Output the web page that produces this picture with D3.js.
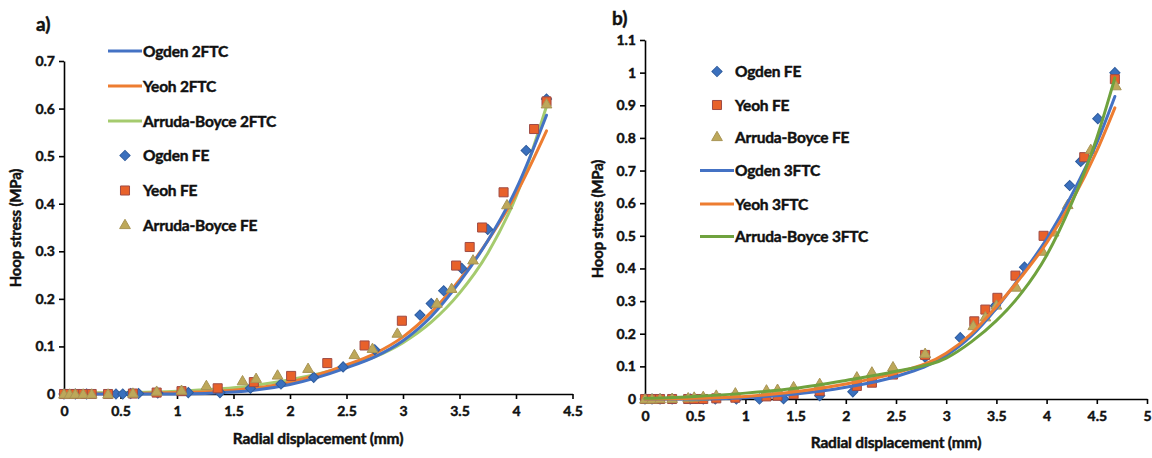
<!DOCTYPE html>
<html>
<head>
<meta charset="utf-8">
<script src="https://cdn.jsdelivr.net/npm/d3@7/dist/d3.min.js"></script>
<style>
  html, body { margin: 0; padding: 0; background: #fff; }
  svg { display: block; }
  text { font-family: Lato, "Open Sans", sans-serif; font-weight: 700; fill: #111; stroke: #111; stroke-width: 0.45px; }
</style>
</head>
<body>
<svg id="chart" width="1152" height="458"></svg>
<script>
// ---------- Panel a: 2FTC fits vs FE ----------
const aXTicks = [0, 0.5, 1, 1.5, 2, 2.5, 3, 3.5, 4, 4.5];
const aYTicks = [0, 0.1, 0.2, 0.3, 0.4, 0.5, 0.6, 0.7];

const aCurveX       = [0, 0.5, 1, 1.5, 2, 2.5, 2.75, 3, 3.25, 3.5, 3.75, 4, 4.27];
const aOgden2FTC    = [0, 0, 0, 0.004, 0.02, 0.055, 0.078, 0.112, 0.163, 0.235, 0.322, 0.43, 0.586];
const aYeoh2FTC     = [0, 0.001, 0.003, 0.008, 0.025, 0.061, 0.085, 0.12, 0.172, 0.24, 0.322, 0.42, 0.553];
const aArruda2FTC   = [0.002, 0.003, 0.006, 0.013, 0.03, 0.058, 0.078, 0.108, 0.151, 0.212, 0.296, 0.415, 0.605];

const aOgdenFE_x  = [0, 0.1, 0.2, 0.46, 0.52, 0.59, 0.66, 0.83, 1.1, 1.38, 1.65, 1.92, 2.21, 2.47, 2.75, 3.15, 3.25, 3.36, 3.52, 3.75, 4.09, 4.27];
const aOgdenFE_y  = [0, 0, 0, 0, 0, 0.001, 0.001, 0.002, 0.003, 0.003, 0.012, 0.021, 0.035, 0.057, 0.093, 0.166, 0.19, 0.217, 0.264, 0.346, 0.512, 0.62];
const aYeohFE_x   = [0, 0.05, 0.1, 0.17, 0.245, 0.39, 0.61, 0.82, 1.04, 1.36, 1.68, 2.01, 2.33, 2.66, 2.99, 3.47, 3.59, 3.70, 3.89, 4.16, 4.27];
const aYeohFE_y   = [0, 0, 0, 0, 0, 0, 0.001, 0.003, 0.006, 0.012, 0.025, 0.038, 0.065, 0.102, 0.154, 0.27, 0.309, 0.35, 0.424, 0.557, 0.615];
const aArrudaFE_x = [0, 0.05, 0.1, 0.17, 0.245, 0.39, 0.61, 0.82, 1.04, 1.26, 1.58, 1.70, 1.89, 2.16, 2.57, 2.73, 2.95, 3.30, 3.43, 3.62, 3.92, 4.27];
const aArrudaFE_y = [0, 0, 0, 0, 0, 0, 0.002, 0.006, 0.008, 0.018, 0.028, 0.033, 0.04, 0.054, 0.083, 0.096, 0.128, 0.191, 0.222, 0.282, 0.398, 0.61];

// ---------- Panel b: FE vs 3FTC fits ----------
const bXTicks = [0, 0.5, 1, 1.5, 2, 2.5, 3, 3.5, 4, 4.5, 5];
const bYTicks = [0, 0.1, 0.2, 0.3, 0.4, 0.5, 0.6, 0.7, 0.8, 0.9, 1, 1.1];

const bCurveX       = [0, 0.5, 1, 1.5, 2, 2.5, 3, 3.25, 3.5, 3.75, 4, 4.25, 4.5, 4.68];
const bOgden3FTC    = [0, 0, 0.004, 0.015, 0.036, 0.069, 0.133, 0.193, 0.278, 0.38, 0.49, 0.625, 0.785, 0.927];
const bYeoh3FTC     = [0, 0.002, 0.008, 0.022, 0.046, 0.08, 0.14, 0.2, 0.283, 0.375, 0.478, 0.605, 0.76, 0.892];
const bArruda3FTC   = [0.002, 0.008, 0.018, 0.033, 0.057, 0.085, 0.125, 0.175, 0.24, 0.325, 0.44, 0.6, 0.8, 0.984];

const bOgdenFE_x  = [0, 0.07, 0.15, 0.27, 0.45, 0.58, 0.7, 0.91, 1.14, 1.38, 1.74, 2.07, 2.79, 3.14, 3.49, 3.78, 4.23, 4.34, 4.51, 4.68];
const bOgdenFE_y  = [0, 0, 0, 0, 0, 0, 0, 0, 0, 0.001, 0.01, 0.022, 0.128, 0.188, 0.286, 0.404, 0.654, 0.728, 0.859, 1.0];
const bYeohFE_x   = [0, 0.07, 0.15, 0.27, 0.43, 0.49, 0.58, 0.71, 0.9, 1.21, 1.32, 1.48, 1.74, 2.11, 2.26, 2.47, 2.79, 3.28, 3.39, 3.51, 3.69, 3.97, 4.375, 4.68];
const bYeohFE_y   = [0, 0, 0, 0, 0, 0, 0, 0.002, 0.004, 0.008, 0.01, 0.015, 0.025, 0.04, 0.05, 0.075, 0.135, 0.238, 0.274, 0.31, 0.378, 0.5, 0.741, 0.98];
const bArrudaFE_x = [0, 0.07, 0.15, 0.27, 0.43, 0.49, 0.58, 0.71, 0.9, 1.21, 1.32, 1.48, 1.74, 2.11, 2.26, 2.47, 2.79, 3.27, 3.39, 3.50, 3.70, 3.96, 4.07, 4.21, 4.44, 4.69];
const bArrudaFE_y = [0, 0, 0.001, 0.002, 0.004, 0.006, 0.008, 0.012, 0.019, 0.028, 0.03, 0.038, 0.048, 0.068, 0.083, 0.099, 0.14, 0.225, 0.252, 0.288, 0.343, 0.453, 0.512, 0.596, 0.765, 0.96];

// ---------- styling ----------
const C = {
  ogdenLine: "#4472C4",
  yeohLine: "#ED7D31",
  arrudaLineA: "#A5CB6E",
  arrudaLineB: "#6FA23E",
  ogdenFE: "#3A70BE", ogdenFEStroke: "#2E5C9E",
  yeohFE: "#E8612A", yeohFEStroke: "#9E4B45",
  arrudaFE: "#BDA85A", arrudaFEStroke: "#A89455"
};

const svg = d3.select("#chart");
const zip = (xs, ys) => xs.map((x, i) => ({ x, y: ys[i] }));

function symbolPath(kind) {
  if (kind === "diamond") return d3.symbol().type(d3.symbolSquare).size(52)();
  if (kind === "square") return d3.symbol().type(d3.symbolSquare).size(82)();
  return d3.symbol().type(d3.symbolTriangle).size(50)();
}

function drawMarkers(g, x, y, pts, kind, fill, stroke) {
  g.append("g").selectAll("path").data(pts).join("path")
    .attr("d", symbolPath(kind))
    .attr("transform", d => `translate(${x(d.x)},${y(d.y)})` + (kind === "diamond" ? " rotate(45)" : kind === "triangle" ? " translate(0,1)" : ""))
    .attr("fill", fill).attr("stroke", stroke).attr("stroke-width", 1);
}

function drawCurve(g, x, y, pts, color) {
  const line = d3.line().x(d => x(d.x)).y(d => y(d.y)).curve(d3.curveMonotoneX);
  g.append("path").datum(pts).attr("d", line)
    .attr("fill", "none").attr("stroke", color).attr("stroke-width", 3)
    .attr("stroke-linecap", "round");
}

function drawAxes(g, x, y, xTicks, yTicks) {
  const fmt = d => String(+d.toFixed(2));
  const xa = g.append("g").attr("transform", `translate(0,${y(0)})`)
    .call(d3.axisBottom(x).tickValues(xTicks).tickFormat(fmt).tickSize(5).tickPadding(7).tickSizeOuter(0));
  const ya = g.append("g").attr("transform", `translate(${x(0)},0)`)
    .call(d3.axisLeft(y).tickValues(yTicks).tickFormat(fmt).tickSize(5).tickPadding(4).tickSizeOuter(0));
  [xa, ya].forEach(a => {
    a.select(".domain").attr("stroke", "#000").attr("stroke-width", 1.6);
    a.selectAll(".tick line").attr("stroke", "#000").attr("stroke-width", 1.6);
    a.selectAll(".tick text").attr("font-family", "Lato, sans-serif").attr("font-weight", 700)
      .attr("font-size", 14).attr("fill", "#111");
  });
}

function legendLine(g, x0, yc, color, label) {
  g.append("line").attr("x1", x0).attr("x2", x0 + 34).attr("y1", yc).attr("y2", yc)
    .attr("stroke", color).attr("stroke-width", 3);
  g.append("text").attr("x", x0 + 35).attr("y", yc).attr("dy", "0.36em")
    .attr("font-size", 15.5).attr("letter-spacing", -0.2).text(label);
}

function legendMarker(g, x0, yc, kind, fill, stroke, label) {
  g.append("path").attr("d", symbolPath(kind))
    .attr("transform", `translate(${x0 + 17},${yc})` + (kind === "diamond" ? " rotate(45)" : ""))
    .attr("fill", fill).attr("stroke", stroke).attr("stroke-width", 1);
  g.append("text").attr("x", x0 + 35).attr("y", yc).attr("dy", "0.36em")
    .attr("font-size", 15.5).attr("letter-spacing", -0.2).text(label);
}

// ---------- panel a ----------
{
  const g = svg.append("g");
  const x = d3.scaleLinear().domain([0, 4.5]).range([64, 572.5]);
  const y = d3.scaleLinear().domain([0, 0.7]).range([394, 61]);
  drawAxes(g, x, y, aXTicks, aYTicks);
  drawCurve(g, x, y, zip(aCurveX, aArruda2FTC), C.arrudaLineA);
  drawCurve(g, x, y, zip(aCurveX, aYeoh2FTC), C.yeohLine);
  drawCurve(g, x, y, zip(aCurveX, aOgden2FTC), C.ogdenLine);
  drawMarkers(g, x, y, zip(aOgdenFE_x, aOgdenFE_y), "diamond", C.ogdenFE, C.ogdenFEStroke);
  drawMarkers(g, x, y, zip(aYeohFE_x, aYeohFE_y), "square", C.yeohFE, C.yeohFEStroke);
  drawMarkers(g, x, y, zip(aArrudaFE_x, aArrudaFE_y), "triangle", C.arrudaFE, C.arrudaFEStroke);

  g.append("text").attr("x", 36).attr("y", 31).attr("font-family", "'Liberation Serif', serif")
    .attr("font-size", 19).attr("font-weight", 700).text("a)");
  g.append("text").attr("transform", "translate(21,228) rotate(-90)").attr("text-anchor", "middle")
    .attr("font-size", 15).attr("letter-spacing", -0.2).text("Hoop stress (MPa)");
  g.append("text").attr("x", 318).attr("y", 444).attr("text-anchor", "middle")
    .attr("font-size", 15.5).attr("letter-spacing", -0.2).text("Radial displacement (mm)");

  const lx = 108;
  legendLine(g, lx, 51, C.ogdenLine, "Ogden 2FTC");
  legendLine(g, lx, 86, C.yeohLine, "Yeoh 2FTC");
  legendLine(g, lx, 121, C.arrudaLineA, "Arruda-Boyce 2FTC");
  legendMarker(g, lx, 155.5, "diamond", C.ogdenFE, C.ogdenFEStroke, "Ogden FE");
  legendMarker(g, lx, 190.5, "square", C.yeohFE, C.yeohFEStroke, "Yeoh FE");
  legendMarker(g, lx, 225.5, "triangle", C.arrudaFE, C.arrudaFEStroke, "Arruda-Boyce FE");
}

// ---------- panel b ----------
{
  const g = svg.append("g");
  const x = d3.scaleLinear().domain([0, 5]).range([645, 1147]);
  const y = d3.scaleLinear().domain([0, 1.1]).range([399, 40]);
  drawAxes(g, x, y, bXTicks, bYTicks);
  drawMarkers(g, x, y, zip(bOgdenFE_x, bOgdenFE_y), "diamond", C.ogdenFE, C.ogdenFEStroke);
  drawMarkers(g, x, y, zip(bYeohFE_x, bYeohFE_y), "square", C.yeohFE, C.yeohFEStroke);
  drawMarkers(g, x, y, zip(bArrudaFE_x, bArrudaFE_y), "triangle", C.arrudaFE, C.arrudaFEStroke);
  drawCurve(g, x, y, zip(bCurveX, bOgden3FTC), C.ogdenLine);
  drawCurve(g, x, y, zip(bCurveX, bYeoh3FTC), C.yeohLine);
  drawCurve(g, x, y, zip(bCurveX, bArruda3FTC), C.arrudaLineB);

  g.append("text").attr("x", 612).attr("y", 25).attr("font-family", "'Liberation Serif', serif")
    .attr("font-size", 19).attr("font-weight", 700).text("b)");
  g.append("text").attr("transform", "translate(603,219) rotate(-90)").attr("text-anchor", "middle")
    .attr("font-size", 15).attr("letter-spacing", -0.2).text("Hoop stress (MPa)");
  g.append("text").attr("x", 896).attr("y", 448).attr("text-anchor", "middle")
    .attr("font-size", 15.5).attr("letter-spacing", -0.2).text("Radial displacement (mm)");

  const lx = 700;
  legendMarker(g, lx, 71.5, "diamond", C.ogdenFE, C.ogdenFEStroke, "Ogden FE");
  legendMarker(g, lx, 105, "square", C.yeohFE, C.yeohFEStroke, "Yeoh FE");
  legendMarker(g, lx, 137.5, "triangle", C.arrudaFE, C.arrudaFEStroke, "Arruda-Boyce FE");
  legendLine(g, lx, 170.5, C.ogdenLine, "Ogden 3FTC");
  legendLine(g, lx, 204, C.yeohLine, "Yeoh 3FTC");
  legendLine(g, lx, 236.5, C.arrudaLineB, "Arruda-Boyce 3FTC");
}
</script>
</body>
</html>
